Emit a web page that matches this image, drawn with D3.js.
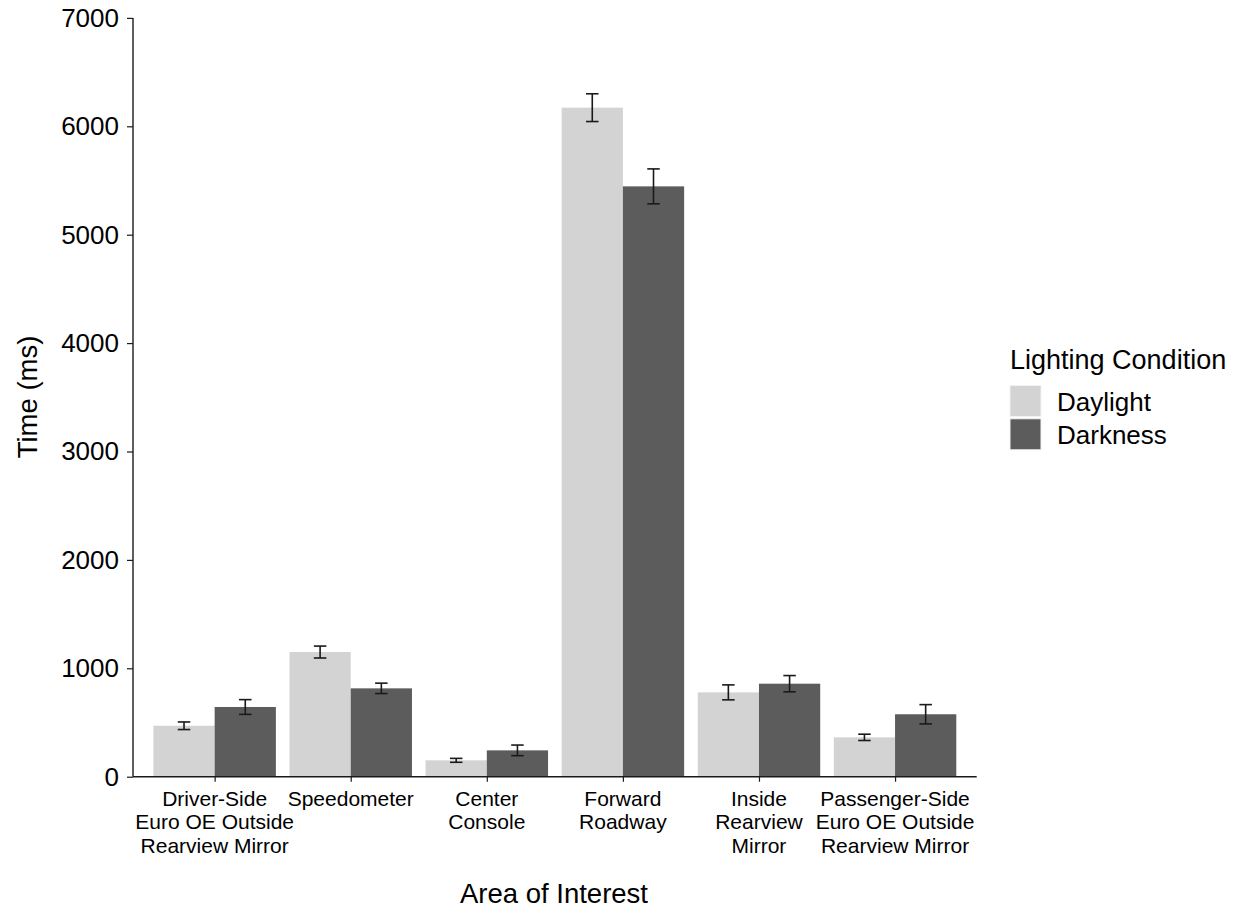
<!DOCTYPE html>
<html>
<head>
<meta charset="utf-8">
<script src="https://cdn.jsdelivr.net/npm/d3@7"></script>
<style>
  body { margin: 0; background: #fff; }
  svg { display: block; font-family: "Liberation Sans", Arial, sans-serif; }
</style>
</head>
<body>
<svg id="chart" width="1238" height="909"></svg>
<script>
// Dwell time per area of interest, by lighting condition
const categories = [
  ["Driver-Side", "Euro OE Outside", "Rearview Mirror"],
  ["Speedometer"],
  ["Center", "Console"],
  ["Forward", "Roadway"],
  ["Inside", "Rearview", "Mirror"],
  ["Passenger-Side", "Euro OE Outside", "Rearview Mirror"]
];
const seriesNames = ["Daylight", "Darkness"];
const daylight = [470, 1150, 151, 6172, 778, 363];
const darkness = [643, 815, 243, 5446, 858, 576];
const daylightErr = [35, 55, 18, 128, 69, 29];
const darknessErr = [68, 48, 49, 161, 75, 89];
const yTicks = [0, 1000, 2000, 3000, 4000, 5000, 6000, 7000];

const colors = { Daylight: "#d3d3d3", Darkness: "#5c5c5c" };

const svg = d3.select("#chart");
const plotLeft = 133, plotRight = 976.7, plotTop = 17.9, plotBottom = 776.7;

const catKeys = categories.map(c => c.join(" "));
const x = d3.scalePoint().domain(catKeys).range([plotLeft, plotRight]).padding(0.6);
const step = x.step();
const barW = step * 0.45;
const y = d3.scaleLinear().domain([0, 7000]).range([plotBottom, plotTop]);

const rows = [];
catKeys.forEach((k, i) => {
  rows.push({ cat: k, s: "Daylight", v: daylight[i], e: daylightErr[i], off: -barW });
  rows.push({ cat: k, s: "Darkness", v: darkness[i], e: darknessErr[i], off: 0 });
});

// bars
svg.append("g").selectAll("rect").data(rows).join("rect")
  .attr("x", d => x(d.cat) + d.off)
  .attr("y", d => y(d.v))
  .attr("width", barW)
  .attr("height", d => y(0) - y(d.v))
  .attr("fill", d => colors[d.s]);

// error bars
const capW = 12.5;
const eb = svg.append("g").attr("stroke", "#1a1a1a").attr("stroke-width", 1.6).attr("fill", "none");
rows.forEach(d => {
  const cx = x(d.cat) + d.off + barW / 2;
  eb.append("line").attr("x1", cx).attr("x2", cx).attr("y1", y(d.v - d.e)).attr("y2", y(d.v + d.e));
  eb.append("line").attr("x1", cx - capW / 2).attr("x2", cx + capW / 2).attr("y1", y(d.v - d.e)).attr("y2", y(d.v - d.e));
  eb.append("line").attr("x1", cx - capW / 2).attr("x2", cx + capW / 2).attr("y1", y(d.v + d.e)).attr("y2", y(d.v + d.e));
});

// y axis
const yAxis = svg.append("g").attr("transform", `translate(${plotLeft},0)`)
  .call(d3.axisLeft(y).tickValues(yTicks).tickFormat(d3.format("d")).tickSize(6).tickPadding(8));
yAxis.select(".domain").attr("stroke", "#1a1a1a").attr("stroke-width", 1.4).attr("d", `M0,${plotTop}V${plotBottom}`);
yAxis.selectAll(".tick line").attr("stroke", "#1a1a1a").attr("stroke-width", 1.2);
yAxis.selectAll(".tick text").attr("font-size", 26).attr("fill", "#000")
  .attr("font-family", "Liberation Sans, Arial, sans-serif");

// x axis
const xAxis = svg.append("g").attr("transform", `translate(0,${plotBottom})`)
  .call(d3.axisBottom(x).tickSize(5).tickFormat(""));
xAxis.select(".domain").attr("stroke", "#1a1a1a").attr("stroke-width", 1.4).attr("d", `M${plotLeft},0H${plotRight}`);
xAxis.selectAll(".tick line").attr("stroke", "#1a1a1a").attr("stroke-width", 1.2);

const xl = svg.append("g").attr("font-size", 21).attr("fill", "#000").attr("text-anchor", "middle");
categories.forEach((lines, i) => {
  const t = xl.append("text").attr("x", x(catKeys[i])).attr("y", 806);
  lines.forEach((ln, j) => {
    t.append("tspan").attr("x", x(catKeys[i])).attr("y", 806 + j * 23.4).text(ln);
  });
});

// axis titles
svg.append("text").attr("x", 554).attr("y", 903).attr("text-anchor", "middle")
  .attr("font-size", 27.5).attr("fill", "#000").text("Area of Interest");
svg.append("text").attr("transform", "translate(37,397) rotate(-90)").attr("text-anchor", "middle")
  .attr("font-size", 27.5).attr("fill", "#000").text("Time (ms)");

// legend
const lg = svg.append("g");
lg.append("text").attr("x", 1010).attr("y", 369).attr("font-size", 27).attr("fill", "#000").text("Lighting Condition");
seriesNames.forEach((s, i) => {
  const ky = 385.5 + i * 33.3;
  lg.append("rect").attr("x", 1010).attr("y", ky).attr("width", 31).attr("height", 31)
    .attr("fill", colors[s]).attr("stroke", "#f2f2f2").attr("stroke-width", 1);
  lg.append("text").attr("x", 1057).attr("y", ky + 25).attr("font-size", 26).attr("fill", "#000").text(s);
});
</script>
</body>
</html>
